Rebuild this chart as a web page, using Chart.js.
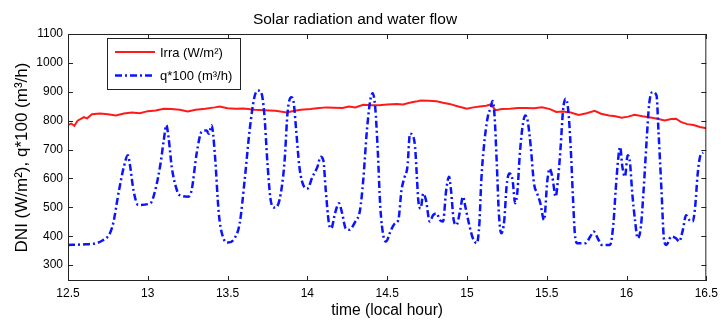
<!DOCTYPE html>
<html>
<head>
<meta charset="utf-8">
<script src="https://cdn.jsdelivr.net/npm/chart.js@4"></script>
<style>
  html, body { margin: 0; padding: 0; background: #fff; }
  canvas { display: block; }
</style>
</head>
<body>
<canvas id="flowChart" width="723" height="321"></canvas>
<script>
// ---- data ----
const timeTicks = [12.5, 13, 13.5, 14, 14.5, 15, 15.5, 16, 16.5];
const dniTicks = [300, 400, 500, 600, 700, 800, 900, 1000, 1100];

const irraTime = [12.5, 12.52, 12.54, 12.56, 12.6, 12.62, 12.65, 12.7, 12.75, 12.8, 12.85, 12.9, 12.95,
  13.0, 13.05, 13.1, 13.15, 13.2, 13.25, 13.3, 13.36, 13.42, 13.45, 13.5, 13.55, 13.6, 13.67, 13.73,
  13.8, 13.87, 13.92, 13.96, 14.02, 14.06, 14.12, 14.17, 14.22, 14.26, 14.3, 14.35, 14.4, 14.45, 14.5,
  14.56, 14.6, 14.64, 14.68, 14.71, 14.76, 14.81, 14.85, 14.89, 14.94, 15.0, 15.04, 15.08, 15.12, 15.15,
  15.18, 15.22, 15.27, 15.32, 15.37, 15.42, 15.47, 15.52, 15.56, 15.6, 15.65, 15.7, 15.75, 15.8, 15.84,
  15.89, 15.93, 15.97, 16.01, 16.05, 16.1, 16.16, 16.2, 16.24, 16.28, 16.31, 16.34, 16.38, 16.42, 16.46, 16.5];
const irraValue = [785, 790, 782, 800, 812, 808, 822, 825, 822, 818, 825, 828, 826,
  833, 835, 841, 840, 838, 832, 838, 841, 846, 849, 843, 841, 842, 838, 836,
  834, 828, 834, 838, 840, 843, 846, 845, 844, 849, 846, 855, 853, 853, 856,
  858, 856, 862, 866, 870, 869, 867, 862, 858, 850, 841, 846, 849, 852, 856,
  836, 840, 841, 844, 844, 843, 846, 840, 830, 832, 828, 820, 826, 834, 824,
  818, 815, 810, 814, 820, 815, 810, 806, 801, 806, 807, 796, 788, 785, 778, 774];

const flowTime = [12.5, 12.61, 12.716, 12.778, 12.82, 12.85, 12.875, 12.89, 12.91, 12.94,
  13.016, 13.047, 13.08, 13.1, 13.116, 13.13, 13.15, 13.182, 13.2, 13.254, 13.275, 13.306, 13.337,
  13.368, 13.383, 13.4, 13.42, 13.445, 13.47, 13.503, 13.54, 13.576, 13.607, 13.638, 13.668, 13.69,
  13.71, 13.73, 13.75, 13.77, 13.794, 13.825, 13.856, 13.877, 13.9, 13.914, 13.93, 13.95, 13.98,
  14.0, 14.032, 14.063, 14.083, 14.1, 14.115, 14.135, 14.15, 14.173, 14.198, 14.218, 14.24, 14.26,
  14.3, 14.33, 14.35, 14.373, 14.394, 14.409, 14.425, 14.44, 14.457, 14.477, 14.494, 14.52, 14.55,
  14.57, 14.59, 14.61, 14.627, 14.643, 14.66, 14.675, 14.685, 14.695, 14.71, 14.726, 14.743, 14.767,
  14.788, 14.81, 14.83, 14.85, 14.87, 14.888, 14.9, 14.917, 14.934, 14.958, 14.975, 14.99, 15.012,
  15.037, 15.062, 15.078, 15.09, 15.106, 15.13, 15.15, 15.16, 15.172, 15.187, 15.2, 15.215, 15.234,
  15.248, 15.265, 15.286, 15.302, 15.317, 15.33, 15.348, 15.365, 15.38, 15.4, 15.42, 15.44, 15.46,
  15.483, 15.504, 15.518, 15.535, 15.556, 15.572, 15.587, 15.602, 15.618, 15.635, 15.65, 15.664,
  15.676, 15.69, 15.742, 15.773, 15.794, 15.825, 15.845, 15.897, 15.918, 15.932, 15.949, 15.96,
  15.974, 15.99, 16.007, 16.022, 16.036, 16.053, 16.07, 16.09, 16.107, 16.126, 16.142, 16.163,
  16.188, 16.2, 16.219, 16.235, 16.25, 16.28, 16.31, 16.33, 16.353, 16.373, 16.394, 16.415, 16.43,
  16.446, 16.463, 16.48];
const flowValue = [370, 372, 385, 433, 560, 640, 680, 640, 560, 508,
  514, 560, 652, 732, 784, 743, 640, 560, 542, 537, 560, 686, 761,
  766, 755, 784, 686, 479, 399, 378, 390, 445, 594, 766, 881, 904,
  899, 824, 652, 525, 499, 525, 652, 835, 881, 864, 766, 640, 571,
  565, 606, 640, 675, 663, 560, 445, 427, 479, 514, 479, 427, 422,
  450, 491, 594, 766, 870, 895, 847, 709, 502, 399, 382, 416, 445,
  456, 560, 606, 640, 755, 749, 709, 617, 525, 496, 548, 525, 451,
  473, 479, 456, 451, 560, 606, 560, 456, 439, 491, 537, 502, 445,
  393, 376, 445, 594, 709, 812, 847, 868, 824, 652, 479, 410, 456,
  571, 617, 594, 514, 560, 675, 778, 818, 801, 709, 583, 548, 514,
  456, 594, 634, 606, 537, 606, 709, 835, 876, 835, 709, 537,
  410, 376, 376, 399, 416, 387, 370, 370, 445, 560, 675, 709,
  640, 606, 680, 652, 548, 456, 393, 433, 560, 732, 858, 899,
  887, 766, 560, 387, 370, 399, 393, 382, 422, 473, 456, 451, 502,
  617, 680, 690];

const FONT = '"Liberation Sans", Arial, sans-serif';

function toPoints(xs, ys) {
  return xs.map((x, i) => ({ x: x, y: ys[i] }));
}

// frame with inward ticks on all four sides, like the matlab axes
const framePlugin = {
  id: 'frame',
  afterDatasetsDraw(chart) {
    const ctx = chart.ctx;
    const a = chart.chartArea;
    const xs = chart.scales.x;
    const ys = chart.scales.y;
    ctx.save();
    ctx.strokeStyle = '#222';
    ctx.lineWidth = 1;
    ctx.strokeRect(a.left + 0.5, a.top + 0.5, a.right - a.left - 1, a.bottom - a.top - 1);
    ctx.beginPath();
    timeTicks.forEach(t => {
      const px = Math.round(xs.getPixelForValue(t)) + 0.5;
      ctx.moveTo(px, a.bottom); ctx.lineTo(px, a.bottom - 5);
      ctx.moveTo(px, a.top); ctx.lineTo(px, a.top + 5);
    });
    dniTicks.forEach(v => {
      const py = Math.round(ys.getPixelForValue(v)) + 0.5;
      ctx.moveTo(a.left, py); ctx.lineTo(a.left + 5, py);
      ctx.moveTo(a.right, py); ctx.lineTo(a.right - 5, py);
    });
    ctx.stroke();
    ctx.restore();
  }
};

// boxed legend in the upper left corner
const legendBoxPlugin = {
  id: 'legendBox',
  afterDraw(chart) {
    const ctx = chart.ctx;
    const box = { x: 107.5, y: 38.5, w: 133, h: 51 };
    ctx.save();
    ctx.fillStyle = '#fff';
    ctx.fillRect(box.x, box.y, box.w, box.h);
    ctx.strokeStyle = '#222';
    ctx.lineWidth = 1;
    ctx.strokeRect(box.x, box.y, box.w, box.h);
    const rows = [52, 75.5];
    chart.data.datasets.forEach((ds, i) => {
      const y = rows[i];
      ctx.beginPath();
      ctx.strokeStyle = ds.borderColor;
      ctx.lineWidth = ds.borderWidth;
      ctx.setLineDash(ds.borderDash || []);
      ctx.moveTo(115, y);
      ctx.lineTo(155, y);
      ctx.stroke();
      ctx.setLineDash([]);
      ctx.fillStyle = '#000';
      ctx.font = '13px ' + FONT;
      ctx.textBaseline = 'middle';
      ctx.fillText(ds.label, 160, y + 1);
    });
    ctx.restore();
  }
};

new Chart(document.getElementById('flowChart'), {
  type: 'scatter',
  data: {
    datasets: [
      {
        label: 'Irra (W/m²)',
        data: toPoints(irraTime, irraValue),
        showLine: true,
        borderColor: '#ff1a1a',
        borderWidth: 2,
        pointRadius: 0,
        tension: 0,
        order: 2
      },
      {
        label: 'q*100 (m³/h)',
        data: toPoints(flowTime, flowValue),
        showLine: true,
        borderColor: '#0a14ff',
        borderWidth: 2.5,
        borderDash: [7, 3, 2, 3],
        pointRadius: 0,
        cubicInterpolationMode: 'monotone',
        order: 1
      }
    ]
  },
  options: {
    responsive: false,
    animation: false,
    layout: { padding: { left: 0, right: 13, top: 0, bottom: 0 } },
    plugins: {
      legend: { display: false },
      tooltip: { enabled: false },
      title: {
        display: true,
        text: 'Solar radiation and water flow',
        color: '#000',
        font: { family: FONT, size: 15.5, weight: 'normal' },
        padding: { top: 10, bottom: 5.4 }
      }
    },
    scales: {
      x: {
        type: 'linear',
        min: 12.5,
        max: 16.5,
        afterBuildTicks: s => { s.ticks = timeTicks.map(v => ({ value: v })); },
        afterFit: s => { s.height = 40; },
        grid: { display: false, drawTicks: false },
        border: { display: false },
        ticks: {
          padding: 5,
          color: '#000',
          font: { family: FONT, size: 12 },
          maxRotation: 0,
          callback: v => String(v)
        },
        title: {
          display: true,
          text: 'time (local hour)',
          color: '#000',
          font: { family: FONT, size: 15.6 },
          padding: { top: 0, bottom: 0.5 }
        }
      },
      y: {
        min: 245,
        max: 1100,
        afterBuildTicks: s => { s.ticks = dniTicks.map(v => ({ value: v })); },
        afterFit: s => { s.width = 68; },
        grid: { display: false, drawTicks: false },
        border: { display: false },
        ticks: {
          padding: 5,
          color: '#000',
          font: { family: FONT, size: 12 },
          callback: v => String(v)
        },
        title: {
          display: true,
          text: 'DNI (W/m²), q*100 (m³/h)',
          color: '#000',
          font: { family: FONT, size: 17 },
          padding: { top: 12, bottom: 0 }
        }
      }
    }
  },
  plugins: [framePlugin, legendBoxPlugin]
});
</script>
</body>
</html>
